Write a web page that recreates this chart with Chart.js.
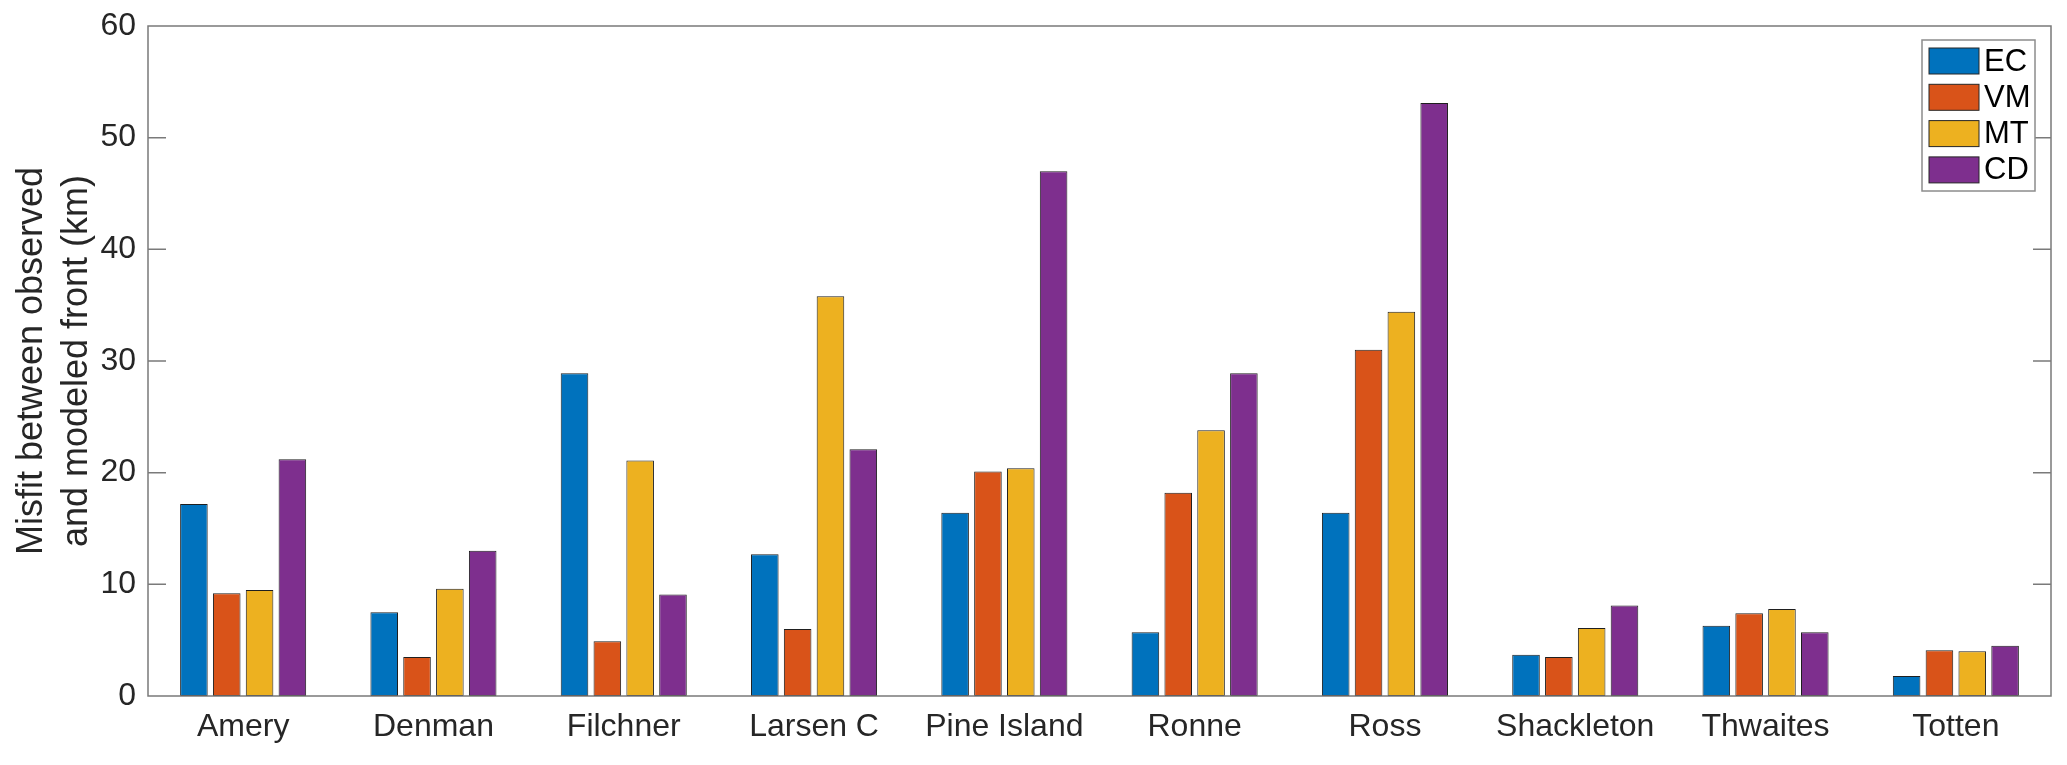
<!DOCTYPE html>
<html>
<head>
<meta charset="utf-8">
<script src="https://cdn.jsdelivr.net/npm/chart.js@4.4.0/dist/chart.umd.min.js"></script>
<style>
  html, body { margin: 0; padding: 0; background: #fff; }
</style>
</head>
<body>
<canvas id="myChart" width="2067" height="765"></canvas>
<script>
// ice shelves and misfit (km) for each method
var shelves = ['Amery', 'Denman', 'Filchner', 'Larsen C', 'Pine Island', 'Ronne', 'Ross', 'Shackleton', 'Thwaites', 'Totten'];
var ec = [17.2, 7.5, 28.9, 12.7, 16.4, 5.7, 16.4, 3.7, 6.3, 1.8];
var vm = [9.2, 3.5, 4.9, 6.0, 20.1, 18.2, 31.0, 3.5, 7.4, 4.1];
var mt = [9.5, 9.6, 21.1, 35.8, 20.4, 23.8, 34.4, 6.1, 7.8, 4.0];
var cd = [21.2, 13.0, 9.1, 22.1, 47.0, 28.9, 53.1, 8.1, 5.7, 4.5];
var yTicks = [0, 10, 20, 30, 40, 50, 60];

Chart.defaults.font.family = "'Liberation Sans', Arial, Helvetica, sans-serif";
Chart.defaults.color = '#262626';

// matlab style box, inward ticks and legend inside the axes
var boxPlugin = {
  id: 'matlabBox',
  afterDatasetsDraw: function(chart) {
    var ctx = chart.ctx;
    var a = chart.chartArea;
    var y = chart.scales.y;
    ctx.save();
    ctx.strokeStyle = '#7a7a7a';
    ctx.lineWidth = 1.5;
    ctx.beginPath();
    ctx.rect(a.left, a.top, a.right - a.left, a.bottom - a.top);
    yTicks.forEach(function(v) {
      var py = y.getPixelForValue(v);
      ctx.moveTo(a.left, py);
      ctx.lineTo(a.left + 18, py);
      ctx.moveTo(a.right, py);
      ctx.lineTo(a.right - 18, py);
    });
    ctx.stroke();

    // legend
    var lx = a.right - 129, ly = a.top + 14, lw = 113, lh = 151;
    ctx.fillStyle = '#fff';
    ctx.fillRect(lx, ly, lw, lh);
    ctx.strokeStyle = '#8c8c8c';
    ctx.lineWidth = 1.5;
    ctx.strokeRect(lx, ly, lw, lh);
    ctx.font = "31px 'Liberation Sans', Arial, sans-serif";
    ctx.textBaseline = 'middle';
    chart.data.datasets.forEach(function(ds, i) {
      var top = ly + 8 + i * 36.3;
      ctx.fillStyle = ds.backgroundColor;
      ctx.fillRect(lx + 7, top, 50, 26);
      ctx.strokeStyle = '#262626';
      ctx.lineWidth = 1;
      ctx.strokeRect(lx + 7, top, 50, 26);
      ctx.fillStyle = '#000';
      ctx.fillText(ds.label, lx + 62, top + 14);
    });
    ctx.restore();
  }
};

var ctx = document.getElementById('myChart').getContext('2d');
var myChart = new Chart(ctx, {
  type: 'bar',
  data: {
    labels: shelves,
    datasets: [
      { label: 'EC', data: ec, backgroundColor: '#0072BD' },
      { label: 'VM', data: vm, backgroundColor: '#D95319' },
      { label: 'MT', data: mt, backgroundColor: '#EDB120' },
      { label: 'CD', data: cd, backgroundColor: '#7E2F8E' }
    ]
  },
  options: {
    responsive: false,
    animation: false,
    layout: { padding: { top: 26, right: 16, left: 0, bottom: 0 } },
    datasets: {
      bar: {
        categoryPercentage: 0.69,
        barPercentage: 0.84,
        borderColor: '#1f1f1f',
        borderWidth: 1,
        borderSkipped: false
      }
    },
    plugins: {
      legend: { display: false },
      tooltip: { enabled: false }
    },
    scales: {
      x: {
        grid: { display: false, drawTicks: false },
        border: { display: false },
        ticks: { font: { size: 32 }, padding: 12, maxRotation: 0, autoSkip: false },
        afterFit: function(s) { s.height = 69; }
      },
      y: {
        min: 0,
        max: 60,
        afterBuildTicks: function(s) { s.ticks = yTicks.map(function(v) { return { value: v }; }); },
        grid: { display: false, drawTicks: false },
        border: { display: false },
        ticks: { font: { size: 32 }, padding: 12 },
        title: {
          display: true,
          text: ['Misfit between observed', 'and modeled front (km)'],
          font: { size: 36, lineHeight: 1.25 },
          padding: { top: 10, bottom: 0 }
        },
        afterFit: function(s) {
          s.width = 148;
          s.paddingTop = 0;
          s.paddingBottom = 0;
        }
      }
    }
  },
  plugins: [boxPlugin]
});
</script>
</body>
</html>
